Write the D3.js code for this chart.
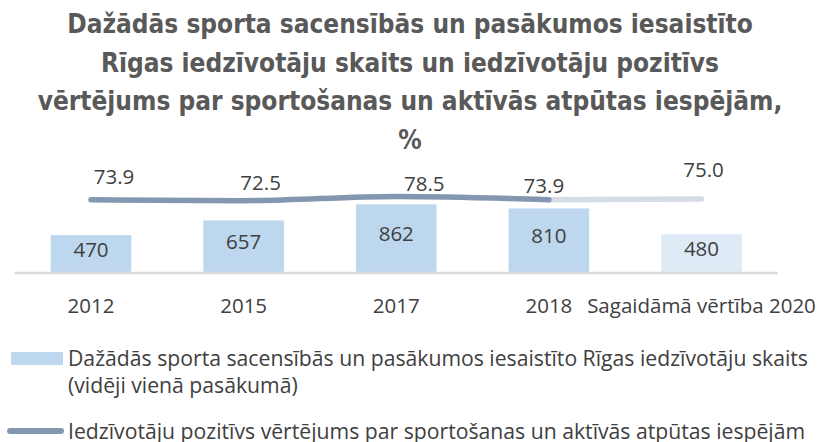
<!DOCTYPE html>
<html>
  <head>
    <meta charset="utf-8">
    <style>
    body {
      font-family: "Open Sans", sans-serif;
      margin: 0;
      background: #fff;
    }
    </style>
  </head>
  <body>
    <script src="https://d3js.org/d3.v7.min.js"></script>
    <script>
    var width = 821, height = 442;

    // data
    var categories = ["2012", "2015", "2017", "2018", "Sagaidāmā vērtība 2020"];
    var participants = [470, 657, 862, 810, 480];
    var rating = [73.9, 72.5, 78.5, 73.9, 75.0];
    var titleLines = [
      "Dažādās sporta sacensībās un pasākumos iesaistīto",
      "Rīgas iedzīvotāju skaits un iedzīvotāju pozitīvs",
      "vērtējums par sportošanas un aktīvās atpūtas iespējām,",
      "%"
    ];
    var legendBar = ["Dažādās sporta sacensībās un pasākumos iesaistīto Rīgas iedzīvotāju skaits", "(vidēji vienā pasākumā)"];
    var legendLine = "Iedzīvotāju pozitīvs vērtējums par sportošanas un aktīvās atpūtas iespējām";

    // label nudges for the line values (moved by hand in the original)
    var lineLabelShift = [[23, -16], [17, -11], [28, -5], [-5, -7], [2, -22]];

    var svg = d3.select("body").append("svg")
        .attr("width", width)
        .attr("height", height);

    var x = d3.scaleBand()
        .domain(categories)
        .range([14.7, 777.8])
        .paddingInner(0.472)
        .paddingOuter(0.236);

    var base = 272;
    var y = d3.scaleLinear().domain([0, 1000]).range([base, base - 78.5]);
    var y2 = d3.scaleLinear().domain([70, 80]).range([202.5, 195.3]);

    // title
    svg.append("g").selectAll("text")
        .data(titleLines)
      .enter().append("text")
        .attr("x", 410)
        .attr("y", function(d, i) { return 33 + i * 38.5; })
        .attr("text-anchor", "middle")
        .style("font-family", "\"DejaVu Sans Condensed\", sans-serif")
        .style("font-weight", "bold")
        .style("font-size", "26px")
        .style("fill", "#595959")
        .text(function(d) { return d; });

    // bars
    svg.append("g").selectAll("rect")
        .data(participants)
      .enter().append("rect")
        .attr("x", function(d, i) { return x(categories[i]); })
        .attr("y", function(d) { return y(d); })
        .attr("width", x.bandwidth())
        .attr("height", function(d) { return y(0) - y(d); })
        .attr("fill", function(d, i) { return i === 4 ? "#deebf7" : "#bdd7ee"; });

    svg.append("g").selectAll("text")
        .data(participants)
      .enter().append("text")
        .attr("x", function(d, i) { return x(categories[i]) + x.bandwidth() / 2; })
        .attr("y", function(d) { return (y(d) + y(0)) / 2 + 3; })
        .attr("text-anchor", "middle")
        .style("font-size", "20.5px")
        .style("fill", "#404040")
        .text(function(d) { return d; });

    // axis
    var xAxis = d3.axisBottom(x).tickSize(0).tickPadding(25);
    var ax = svg.append("g")
        .attr("transform", "translate(0," + (base + 1) + ")")
        .call(xAxis);
    ax.select(".domain")
        .attr("d", "M14.7,0H777.8")
        .attr("stroke", "#d9d9d9")
        .attr("stroke-width", 2.5);
    ax.selectAll("text")
        .style("font-size", "20.5px")
        .style("font-family", "\"Open Sans\", sans-serif")
        .style("fill", "#404040");

    // line
    var pts = rating.map(function(v, i) {
      return [x(categories[i]) + x.bandwidth() / 2, y2(v)];
    });
    var line = d3.line().curve(d3.curveMonotoneX);

    svg.append("path")
        .datum(pts.slice(3))
        .attr("d", line)
        .attr("fill", "none")
        .attr("stroke", "#d6dce5")
        .attr("stroke-width", 5.5)
        .attr("stroke-linecap", "round");

    svg.append("path")
        .datum(pts.slice(0, 4))
        .attr("d", line)
        .attr("fill", "none")
        .attr("stroke", "#8497b0")
        .attr("stroke-width", 5.5)
        .attr("stroke-linecap", "round");

    svg.append("g").selectAll("text")
        .data(rating)
      .enter().append("text")
        .attr("x", function(d, i) { return pts[i][0] + lineLabelShift[i][0]; })
        .attr("y", function(d, i) { return pts[i][1] + lineLabelShift[i][1]; })
        .attr("text-anchor", "middle")
        .style("font-size", "20.5px")
        .style("fill", "#404040")
        .text(function(d) { return d.toFixed(1); });

    // legend
    var lg = svg.append("g");
    lg.append("rect")
        .attr("x", 11).attr("y", 352)
        .attr("width", 52).attr("height", 13)
        .attr("fill", "#bdd7ee");
    lg.selectAll("text.lb")
        .data(legendBar)
      .enter().append("text")
        .attr("class", "lb")
        .attr("x", 68)
        .attr("y", function(d, i) { return 366 + i * 26.5; })
        .style("font-size", "21.2px")
        .style("fill", "#404040")
        .text(function(d) { return d; });
    lg.append("line")
        .attr("x1", 10).attr("x2", 61)
        .attr("y1", 431).attr("y2", 431)
        .attr("stroke", "#8497b0")
        .attr("stroke-width", 6)
        .attr("stroke-linecap", "round");
    lg.append("text")
        .attr("x", 68).attr("y", 439)
        .style("font-size", "21.2px")
        .style("fill", "#404040")
        .text(legendLine);
    </script>
  </body>
</html>
